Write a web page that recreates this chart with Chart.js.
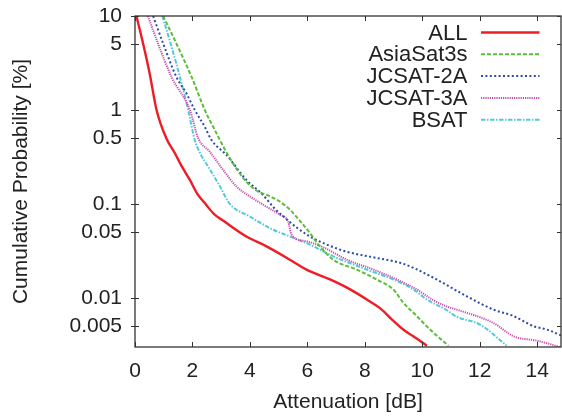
<!DOCTYPE html>
<html><head><meta charset="utf-8">
<script src="https://cdn.jsdelivr.net/npm/chart.js@4"></script>
<style>html,body{margin:0;padding:0;background:#fff}#c{display:block}</style>
</head><body>
<canvas id="c" width="562" height="416"></canvas>
<script>
// ---- data ----
const seriesNames = ['ALL', 'AsiaSat3s', 'JCSAT-2A', 'JCSAT-3A', 'BSAT'];

const allX = [0.05, 0.28, 0.51, 0.75, 1.09, 1.38, 1.60, 1.91, 2.17, 2.43, 2.72, 3.19, 3.88, 4.58, 5.39, 5.97, 6.79, 7.49, 8.07, 8.59, 8.94, 9.34, 9.69, 10.16];
const allY = [10, 5.1, 2.45, 1.0, 0.50, 0.35, 0.26, 0.18, 0.128, 0.102, 0.080, 0.0625, 0.045, 0.0353, 0.0255, 0.020, 0.0157, 0.0123, 0.0096, 0.0075, 0.0059, 0.0046, 0.0039, 0.0031];

const asiaX = [0.98, 1.44, 1.97, 2.43, 2.78, 3.24, 3.82, 4.29, 4.58, 5.04, 5.39, 5.74, 6.09, 6.38, 6.90, 7.72, 8.41, 8.99, 9.34, 9.81, 10.27, 10.91];
const asiaY = [10, 5.1, 2.25, 1.0, 0.61, 0.33, 0.18, 0.135, 0.125, 0.106, 0.087, 0.066, 0.049, 0.037, 0.0255, 0.020, 0.0157, 0.0123, 0.0089, 0.0064, 0.0046, 0.0031];

const jc2X = [0.63, 0.98, 1.44, 1.79, 2.08, 2.43, 2.66, 3.19, 3.88, 4.45, 4.85, 5.20, 5.63, 6.09, 6.67, 7.37, 8.41, 9.23, 9.75, 10.5, 11.55, 12.48, 13.18, 13.87, 14.34, 14.9];
const jc2Y = [10, 5.1, 2.25, 1.5, 1.0, 0.66, 0.48, 0.33, 0.18, 0.125, 0.090, 0.072, 0.056, 0.045, 0.037, 0.031, 0.0266, 0.0236, 0.0205, 0.0157, 0.0104, 0.0075, 0.0064, 0.0050, 0.0046, 0.0039];

const jc3X = [0.45, 0.80, 1.27, 1.91, 2.20, 2.60, 3.07, 3.53, 4.0, 4.46, 5.04, 5.33, 5.45, 5.97, 6.60, 7.37, 8.30, 9.11, 9.81, 10.35, 10.85, 11.2, 12.48, 13.18, 13.99, 14.63, 14.9];
const jc3Y = [10, 5.1, 2.25, 1.0, 0.5, 0.36, 0.23, 0.153, 0.12, 0.098, 0.0766, 0.065, 0.047, 0.040, 0.034, 0.0255, 0.020, 0.0157, 0.0123, 0.0096, 0.0081, 0.0075, 0.0054, 0.0039, 0.0035, 0.0031, 0.0029];

const bsatX = [0.95, 1.24, 1.62, 1.85, 2.08, 2.26, 2.60, 2.95, 3.30, 4.0, 4.69, 5.39, 6.09, 6.55, 6.90, 8.07, 8.99, 9.69, 10.16, 10.82, 11.2, 12.01, 12.94];
const bsatY = [10, 5.1, 1.93, 1.0, 0.48, 0.35, 0.235, 0.155, 0.10, 0.0734, 0.0553, 0.045, 0.0368, 0.0313, 0.0277, 0.020, 0.0157, 0.0123, 0.0096, 0.0075, 0.0063, 0.0052, 0.0031];

const xTickValues = [0, 2, 4, 6, 8, 10, 12, 14];
const yTickValues = [10, 5, 1, 0.5, 0.1, 0.05, 0.01, 0.005];
const yTickLabels = ['10', '5', '1', '0.5', '0.1', '0.05', '0.01', '0.005'];
const xTitle = 'Attenuation [dB]';
const yTitle = 'Cumulative Probability [%]';

// ---- styles ----
const colors = ['#ee1c24', '#5cbd3a', '#2b4ca6', '#c54fae', '#55c8da'];
const dashes = [[], [4, 2], [2, 2.4], [1.2, 1], [4.5, 1.5, 1.5, 1.5]];
const widths = [2.4, 2, 2, 2, 2];

const xs = [allX, asiaX, jc2X, jc3X, bsatX];
const ys = [allY, asiaY, jc2Y, jc3Y, bsatY];

Chart.defaults.font.family = "'Liberation Sans', Arial, sans-serif";
Chart.defaults.font.size = 21;
Chart.defaults.color = '#222';

const datasets = seriesNames.map((name, i) => ({
  label: name,
  data: xs[i].map((x, k) => ({x: x, y: ys[i][k]})),
  borderColor: colors[i],
  borderWidth: widths[i],
  borderDash: dashes[i],
  pointRadius: 0,
  fill: false,
  cubicInterpolationMode: 'monotone'
}));

const framePlugin = {
  id: 'frame',
  afterDraw(chart) {
    const ctx = chart.ctx;
    const a = chart.chartArea;
    const xs_ = chart.scales.x, ys_ = chart.scales.y;
    ctx.save();
    ctx.strokeStyle = '#333';
    ctx.lineWidth = 1.3;
    ctx.setLineDash([]);
    ctx.strokeRect(a.left, a.top, a.right - a.left, a.bottom - a.top);
    ctx.lineWidth = 1;
    ctx.beginPath();
    xTickValues.forEach(v => {
      const p = Math.round(xs_.getPixelForValue(v)) + 0.5;
      ctx.moveTo(p, a.bottom); ctx.lineTo(p, a.bottom - 5);
      ctx.moveTo(p, a.top); ctx.lineTo(p, a.top + 5);
    });
    yTickValues.forEach(v => {
      const p = Math.round(ys_.getPixelForValue(v)) + 0.5;
      ctx.moveTo(a.left - 4, p); ctx.lineTo(a.left + 4, p);
      ctx.moveTo(a.right, p); ctx.lineTo(a.right - 4, p);
    });
    ctx.stroke();
    // legend
    ctx.font = "22px 'Liberation Sans', Arial, sans-serif";
    ctx.fillStyle = '#222';
    ctx.textAlign = 'right';
    ctx.textBaseline = 'middle';
    chart.data.datasets.forEach((ds, i) => {
      const y = 32.5 + i * 21.8;
      ctx.fillText(ds.label, 467.5, y + 1);
      ctx.strokeStyle = ds.borderColor;
      ctx.lineWidth = ds.borderWidth;
      ctx.setLineDash(ds.borderDash);
      ctx.beginPath();
      ctx.moveTo(481, y); ctx.lineTo(539.5, y);
      ctx.stroke();
    });
    ctx.restore();
  }
};

new Chart(document.getElementById('c'), {
  type: 'line',
  data: {datasets},
  options: {
    responsive: false,
    animation: false,
    devicePixelRatio: 1,
    layout: {padding: {top: 16, right: 1, left: 0, bottom: 0}},
    plugins: {legend: {display: false}, tooltip: {enabled: false}},
    scales: {
      x: {
        type: 'linear', min: 0, max: 14.83,
        grid: {display: false, drawTicks: false},
        border: {display: false},
        afterBuildTicks(s) { s.ticks = xTickValues.map(v => ({value: v})); },
        afterFit(s) { s.height = 69; s.paddingLeft = 0; s.paddingRight = 0; },
        ticks: {padding: 12, maxRotation: 0, autoSkip: false, callback: v => String(v)},
        title: {display: true, text: xTitle, padding: {top: 0, bottom: 1}}
      },
      y: {
        type: 'logarithmic', min: 0.003, max: 10,
        grid: {display: false, drawTicks: false},
        border: {display: false},
        afterBuildTicks(s) { s.ticks = yTickValues.map(v => ({value: v})); },
        afterFit(s) { s.width = 135; s.paddingTop = 0; s.paddingBottom = 0; },
        ticks: {padding: 13, autoSkip: false, callback: (v, i) => yTickLabels[i]},
        title: {display: true, text: yTitle, padding: {top: 9, bottom: 9}}
      }
    }
  },
  plugins: [framePlugin]
});
</script>
</body></html>
